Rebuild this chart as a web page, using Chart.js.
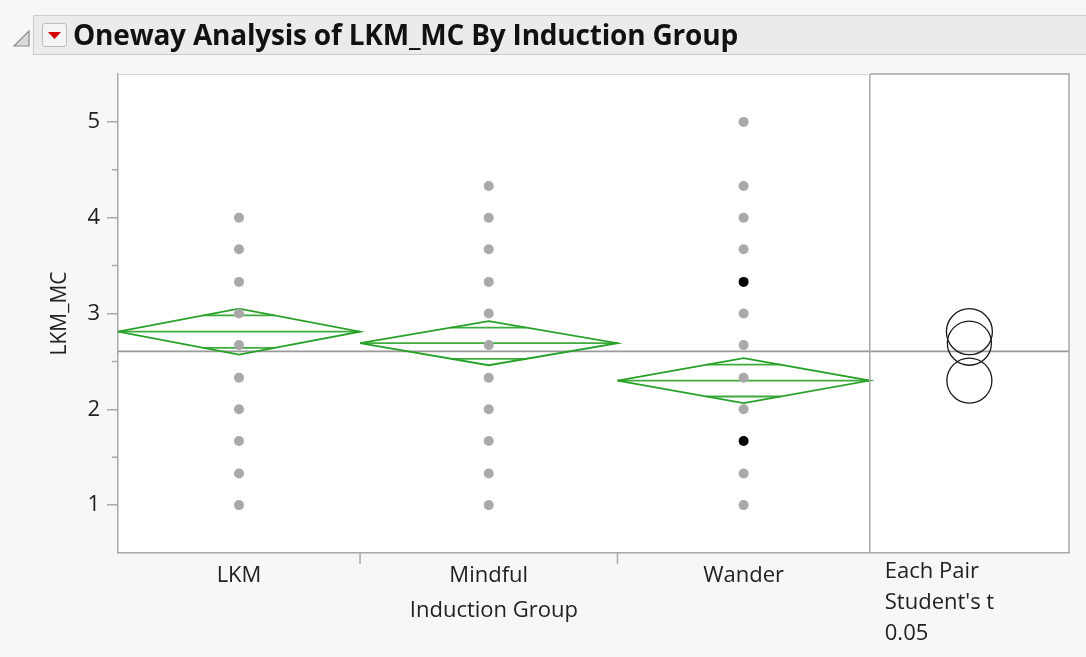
<!DOCTYPE html>
<html>
<head>
<meta charset="utf-8">
<script src="https://cdn.jsdelivr.net/npm/chart.js@4.4.1/dist/chart.umd.min.js"></script>
<style>
  html, body { margin: 0; padding: 0; background: #f7f7f7; }
  #wrap { position: relative; width: 1086px; height: 657px; overflow: hidden; }
  #chart { position: absolute; left: 0; top: 0; }
  .header {
    position: absolute; left: 33px; top: 15px; width: 1053px; height: 40px;
    box-sizing: border-box; background: #ebebeb;
    border: 1.5px solid #cbcbcb; border-right: none;
  }
  .disclose { position: absolute; left: 12px; top: 29px; }
  .menu-btn {
    position: absolute; left: 42px; top: 23px; width: 25px; height: 24px;
    box-sizing: border-box; border: 1px solid #bdbdbd; border-radius: 3px;
    background: #f4f4f4;
  }
  .menu-btn svg { position: absolute; left: 5px; top: 8px; }
  .title {
    position: absolute; left: 73px; top: 14px; height: 40px; line-height: 40px;
    font-family: 'Open Sans', sans-serif; font-weight: bold; font-size: 28px;
    letter-spacing: -0.2px; color: #111; white-space: nowrap;
  }
</style>
</head>
<body>
<div id="wrap">
  <canvas id="chart" width="1086" height="657"></canvas>
  <div class="header"></div>
  <svg class="disclose" width="20" height="20" viewBox="0 0 20 20">
    <polygon points="2,17 17,2 17,17" fill="#d9d9d9" stroke="#8c8c8c" stroke-width="1.2"/>
  </svg>
  <div class="menu-btn">
    <svg width="13" height="7" viewBox="0 0 13 7"><polygon points="0,0 13,0 6.5,7" fill="#d40000"/></svg>
  </div>
  <div class="title">Oneway Analysis of LKM_MC By Induction Group</div>
</div>
<script>
const groups = ['LKM', 'Mindful', 'Wander'];
const groupCounts = [47, 50, 49];
const groupMeans = [2.81, 2.69, 2.30];
const ciHalfWidths = [0.24, 0.23, 0.235];
const grandMean = 2.605;

const lkmValues = [1, 1.33, 1.67, 2, 2.33, 2.67, 3, 3.33, 3.67, 4];
const mindfulValues = [1, 1.33, 1.67, 2, 2.33, 2.67, 3, 3.33, 3.67, 4, 4.33];
const wanderValues = [1, 1.33, 2, 2.33, 2.67, 3, 3.67, 4, 4.33, 5];
const wanderMarked = [1.67, 3.33];

const yTicks = [1, 2, 3, 4, 5];
const yMinorTicks = [1.5, 2.5, 3.5, 4.5];
const yTitle = 'LKM_MC';
const xTitle = 'Induction Group';
const compareLabel = ['Each Pair', "Student's t", '0.05'];

const FONT = "'Open Sans', sans-serif";
const GREEN = '#27a127';
const AXIS = '#a9a9a9';

// x runs in "observation" units so every group gets width proportional to its n
const totalN = groupCounts.reduce((a, b) => a + b, 0);
const edges = [0];
groupCounts.forEach((n) => edges.push(edges[edges.length - 1] + n));
const centers = groupCounts.map((n, i) => edges[i] + n / 2);
const xMax = totalN * 1.265;
const panelCenter = (totalN + xMax) / 2;

function diamondOutline(i) {
  const m = groupMeans[i], h = ciHalfWidths[i];
  return [
    { x: edges[i], y: m }, { x: centers[i], y: m + h },
    { x: edges[i + 1], y: m }, { x: centers[i], y: m - h },
    { x: edges[i], y: m }
  ];
}

function diamondInner(i) {
  const m = groupMeans[i], h = ciHalfWidths[i];
  const k = Math.SQRT1_2;
  const half = (groupCounts[i] / 2) * (1 - k);
  return [
    { x: edges[i], y: m }, { x: edges[i + 1], y: m }, { x: centers[i], y: null },
    { x: centers[i] - half, y: m + h * k }, { x: centers[i] + half, y: m + h * k }, { x: centers[i], y: null },
    { x: centers[i] - half, y: m - h * k }, { x: centers[i] + half, y: m - h * k }
  ];
}

const pointStyle = (color) => ({
  type: 'scatter', showLine: false, pointRadius: 5, pointHoverRadius: 5,
  pointBackgroundColor: color, pointBorderWidth: 0, borderWidth: 0
});

const lineStyle = (color, width) => ({
  type: 'scatter', showLine: true, pointRadius: 0, pointHoverRadius: 0,
  borderColor: color, borderWidth: width, spanGaps: false, fill: false, tension: 0
});

const datasets = [
  { ...pointStyle('#000000'), data: wanderMarked.map((v) => ({ x: centers[2], y: v })) },
  { ...pointStyle('#a9a9a9'), data: lkmValues.map((v) => ({ x: centers[0], y: v })) },
  { ...pointStyle('#a9a9a9'), data: mindfulValues.map((v) => ({ x: centers[1], y: v })) },
  { ...pointStyle('#a9a9a9'), data: wanderValues.map((v) => ({ x: centers[2], y: v })) }
];
groups.forEach((g, i) => {
  datasets.push({ ...lineStyle(GREEN, 1.8), data: diamondOutline(i) });
  datasets.push({ ...lineStyle('#3fab3f', 1.8), data: diamondInner(i) });
});
datasets.push({ ...lineStyle('#9a9a9a', 1.6), data: [{ x: 0, y: grandMean }, { x: xMax, y: grandMean }] });

const framePlugin = {
  id: 'frame',
  beforeDraw(chart) {
    const { ctx, chartArea: a } = chart;
    ctx.save();
    ctx.fillStyle = '#ffffff';
    ctx.fillRect(a.left, a.top, a.right - a.left, a.bottom - a.top);
    ctx.restore();
  },
  afterDatasetsDraw(chart) {
    const { ctx, chartArea: a, scales: { x, y } } = chart;
    ctx.save();

    // comparison circles
    ctx.strokeStyle = '#1a1a1a';
    ctx.lineWidth = 1.3;
    const cx = x.getPixelForValue(panelCenter);
    groupMeans.forEach((m, i) => {
      const cy = y.getPixelForValue(m);
      const r = y.getPixelForValue(m - ciHalfWidths[i]) - cy;
      ctx.beginPath();
      ctx.arc(cx, cy, r, 0, Math.PI * 2);
      ctx.stroke();
    });

    // frame lines
    const px = x.getPixelForValue(totalN);
    ctx.strokeStyle = AXIS;
    ctx.lineWidth = 1.5;
    ctx.beginPath();
    ctx.moveTo(px, a.top); ctx.lineTo(px, a.bottom);
    ctx.moveTo(px, a.top); ctx.lineTo(a.right, a.top); ctx.lineTo(a.right, a.bottom);
    ctx.stroke();
    ctx.strokeStyle = '#d6d6d6';
    ctx.lineWidth = 1;
    ctx.beginPath();
    ctx.moveTo(a.left, a.top + 0.5); ctx.lineTo(px, a.top + 0.5);
    ctx.stroke();
    ctx.restore();
  },
  afterDraw(chart) {
    const { ctx, chartArea: a, scales: { x, y } } = chart;
    ctx.save();
    ctx.strokeStyle = AXIS;
    ctx.lineWidth = 1.5;
    ctx.beginPath();
    yMinorTicks.forEach((v) => {
      const py = y.getPixelForValue(v);
      ctx.moveTo(a.left - 6, py); ctx.lineTo(a.left, py);
    });
    edges.slice(1, -1).forEach((v) => {
      const px = x.getPixelForValue(v);
      ctx.moveTo(px, a.bottom); ctx.lineTo(px, a.bottom + 11);
    });
    ctx.stroke();

    ctx.fillStyle = '#222';
    ctx.font = `22px ${FONT}`;
    ctx.textAlign = 'center';
    ctx.textBaseline = 'middle';
    ctx.fillText(xTitle, x.getPixelForValue(totalN / 2), 611);

    ctx.textAlign = 'left';
    const lx = x.getPixelForValue(totalN) + 15;
    compareLabel.forEach((t, i) => ctx.fillText(t, lx, 572 + i * 31));

    ctx.font = `21px ${FONT}`;
    ctx.textAlign = 'center';
    ctx.translate(60, (a.top + a.bottom) / 2);
    ctx.rotate(-Math.PI / 2);
    ctx.fillText(yTitle, 0, 0);
    ctx.restore();
  }
};

new Chart(document.getElementById('chart'), {
  type: 'scatter',
  data: { datasets },
  plugins: [framePlugin],
  options: {
    responsive: false,
    animation: false,
    events: [],
    layout: { padding: { top: 74, right: 17, left: 0, bottom: 0 } },
    plugins: { legend: { display: false }, tooltip: { enabled: false } },
    scales: {
      x: {
        type: 'linear', min: 0, max: xMax,
        grid: { display: false },
        border: { display: true, color: AXIS, width: 1.5 },
        afterBuildTicks: (s) => { s.ticks = centers.map((v) => ({ value: v })); },
        ticks: {
          callback: (v, i) => groups[i],
          autoSkip: false, maxRotation: 0,
          font: { family: FONT, size: 22 }, color: '#222', padding: 2
        },
        afterFit: (s) => { s.height = 104; }
      },
      y: {
        type: 'linear', min: 0.5, max: 5.5,
        afterBuildTicks: (s) => { s.ticks = yTicks.map((v) => ({ value: v })); },
        grid: { drawOnChartArea: false, drawTicks: true, tickLength: 11, color: AXIS, lineWidth: 1.5 },
        border: { display: true, color: AXIS, width: 1.5 },
        ticks: { font: { family: FONT, size: 22 }, color: '#222', padding: 7 },
        afterFit: (s) => { s.width = 118; }
      }
    }
  }
});
</script>
</body>
</html>
